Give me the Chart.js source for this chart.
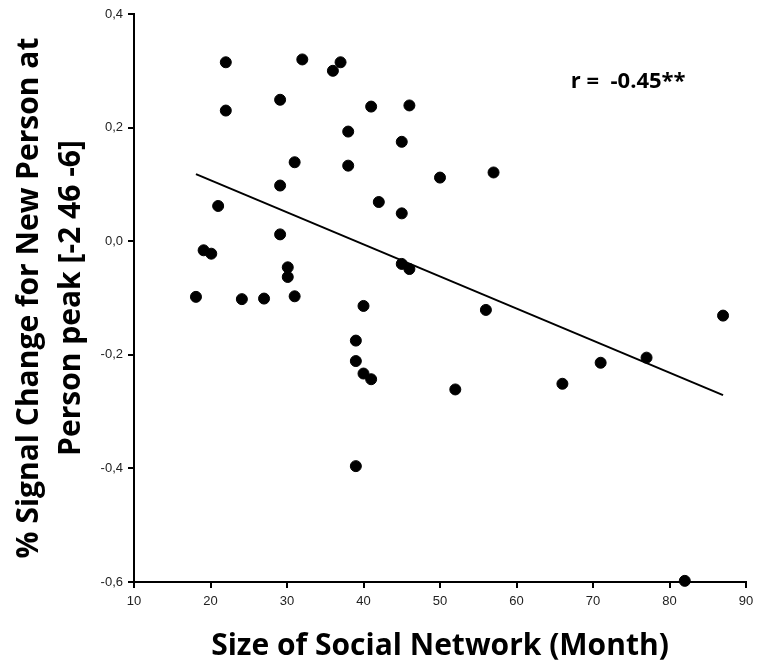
<!DOCTYPE html>
<html>
<head>
<meta charset="utf-8">
<script src="https://cdn.jsdelivr.net/npm/chart.js@4.4.0/dist/chart.umd.min.js"></script>
<style>
  html, body { margin: 0; padding: 0; background: #fff; }
</style>
</head>
<body>
<canvas id="chart" width="760" height="671"></canvas>
<script>
// values
const networkSize = [18.1, 19.1, 20.1, 21.0, 22.0, 22.0, 24.1, 27.0, 29.1, 29.1, 29.1, 30.1, 30.1, 31.0, 31.0,
  32.0, 36.0, 37.0, 38.0, 38.0, 39.0, 39.0, 39.0, 40.0, 40.0, 41.0, 41.0, 42.0, 45.0, 45.0, 45.0,
  46.0, 46.0, 50.0, 52.0, 56.0, 57.0, 66.0, 71.0, 77.0, 87.0, 82.0];
const signalChange = [-0.098, -0.016, -0.022, 0.062, 0.315, 0.230, -0.102, -0.101, 0.249, 0.098, 0.012, -0.046, -0.063, 0.139, -0.097,
  0.320, 0.300, 0.315, 0.193, 0.133, -0.175, -0.211, -0.396, -0.114, -0.233, 0.237, -0.243, 0.069, 0.175, 0.049, -0.040,
  0.239, -0.049, 0.112, -0.261, -0.121, 0.121, -0.251, -0.214, -0.205, -0.131, -0.598];
const trendX = [18.1, 87.0];
const trendY = [0.118, -0.271];
const xTicks = [10, 20, 30, 40, 50, 60, 70, 80, 90];
const yTicks = [-0.6, -0.4, -0.2, 0.0, 0.2, 0.4];
const rLabel = 'r =  -0.45**';
const rPos = [67.1, 0.28];

const titleFont = "'Open Sans', sans-serif";
const tickFont = "'Liberation Sans', sans-serif";

const rLabelPlugin = {
  id: 'rLabel',
  afterDatasetsDraw(chart) {
    const { ctx, scales } = chart;
    ctx.save();
    ctx.font = 'bold 22px ' + titleFont;
    ctx.fillStyle = '#000';
    ctx.textAlign = 'left';
    ctx.textBaseline = 'middle';
    ctx.fillText(rLabel, scales.x.getPixelForValue(rPos[0]), scales.y.getPixelForValue(rPos[1]));
    ctx.restore();
  }
};

const points = networkSize.map((x, i) => ({ x: x, y: signalChange[i] }));
const trend = trendX.map((x, i) => ({ x: x, y: trendY[i] }));

new Chart(document.getElementById('chart'), {
  type: 'scatter',
  data: {
    datasets: [
      {
        label: 'Subjects',
        data: points,
        backgroundColor: '#000',
        borderColor: '#000',
        pointRadius: 5.5,
        pointHoverRadius: 5.5,
        clip: false
      },
      {
        label: 'Fit',
        type: 'line',
        data: trend,
        borderColor: '#000',
        borderWidth: 2,
        pointRadius: 0,
        fill: false
      }
    ]
  },
  options: {
    responsive: false,
    animation: false,
    layout: { padding: { top: 14, right: 14, left: 0, bottom: 0 } },
    plugins: { legend: { display: false }, tooltip: { enabled: false } },
    scales: {
      x: {
        type: 'linear',
        min: xTicks[0],
        max: xTicks[xTicks.length - 1],
        afterBuildTicks: s => { s.ticks = xTicks.map(v => ({ value: v })); },
        afterFit: s => { s.height = 89; },
        border: { display: true, color: '#000', width: 2 },
        grid: { drawOnChartArea: false, drawTicks: true, tickLength: 6, color: '#000', lineWidth: 2 },
        ticks: { color: '#222', font: { family: tickFont, size: 13 }, padding: 6, maxRotation: 0, autoSkip: false },
        title: {
          display: true,
          text: 'Size of Social Network (Month)',
          color: '#000',
          font: { family: titleFont, size: 30, weight: 'bold', lineHeight: 1.2 },
          padding: { top: 0, bottom: 7 }
        }
      },
      y: {
        type: 'linear',
        min: yTicks[0],
        max: yTicks[yTicks.length - 1],
        afterBuildTicks: s => { s.ticks = yTicks.map(v => ({ value: v })); },
        afterFit: s => { s.width = 134; },
        border: { display: true, color: '#000', width: 2 },
        grid: { drawOnChartArea: false, drawTicks: true, tickLength: 6, color: '#000', lineWidth: 2 },
        ticks: {
          color: '#222',
          font: { family: tickFont, size: 13 },
          padding: 5,
          callback: v => (Math.abs(v) < 1e-9 ? 0 : v).toFixed(1).replace('.', ',')
        },
        title: {
          display: true,
          text: ['% Signal Change for New Person at', 'Person peak [-2 46 -6]'],
          color: '#000',
          font: { family: titleFont, size: 30, weight: 'bold', lineHeight: 1.4 },
          padding: { top: 8, bottom: 0 }
        }
      }
    }
  },
  plugins: [rLabelPlugin]
});
</script>
</body>
</html>
